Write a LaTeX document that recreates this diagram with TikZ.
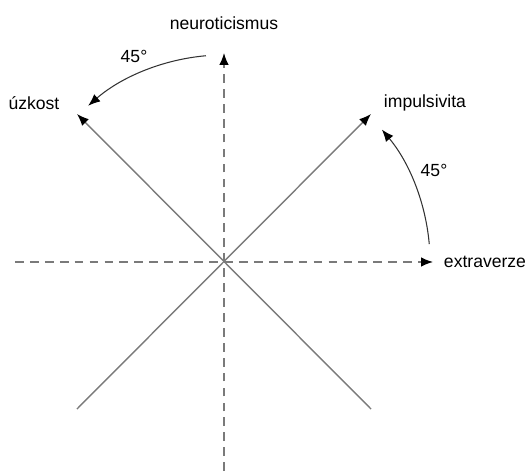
\documentclass[tikz,border=0pt]{standalone}
\usepackage{fontspec}
\setmainfont{Liberation Sans}
\usetikzlibrary{arrows.meta}
\definecolor{axis}{HTML}{7a7a7a}

\tikzset{
  lbl/.style={font=\fontsize{10}{12}\selectfont, inner sep=1pt},
  tip/.style={-{Latex[length=2.4mm,width=1.9mm,black]}},
  axisline/.style={axis, thick, dash pattern=on 5pt off 3.5pt, tip},
  factorline/.style={axis, thick, tip},
  turn/.style={black!80, semithick, tip}
}

\begin{document}
\begin{tikzpicture}[scale=0.02]
  \useasboundingbox (-224,-209) rectangle (301,262);

  % Axes (dashed)
  \coordinate (o) at (0,0);
  \coordinate (bot) at (0,-209);
  \coordinate (top) at (0,209);
  \coordinate (left) at (-209,0);
  \coordinate (right) at (209,0);
  \draw[axisline] (bot) -- (top);
  \draw[axisline] (left) -- (right);

  % Rotated factors
  \coordinate (ll) at (-147,-147);
  \coordinate (lr) at (147,-147);
  \coordinate (ul) at (-147,148);
  \coordinate (ur) at (147,148);
  \draw[factorline] (lr) -- (ul);
  \draw[factorline] (ll) -- (ur);

  % Labels
  \node[lbl] (neuro) at (0,239) {neuroticismus};
  \node[lbl] (extra) at (261,0) {extraverze};
  \node[lbl] (uzk) at (-190,159) {úzkost};
  \node[lbl] (impu) at (201,159) {impulsivita};
  \node[lbl] (degtop) at (-90,206) {45°};
  \node[lbl] (degright) at (210,92) {45°};

  % Rotation arcs
  \coordinate (rs) at (5:206);
  \coordinate (ts) at (95:207);
  \draw[turn] (rs) arc (5:40:206);
  \draw[turn] (ts) arc (95:131:207);
\end{tikzpicture}
\end{document}
